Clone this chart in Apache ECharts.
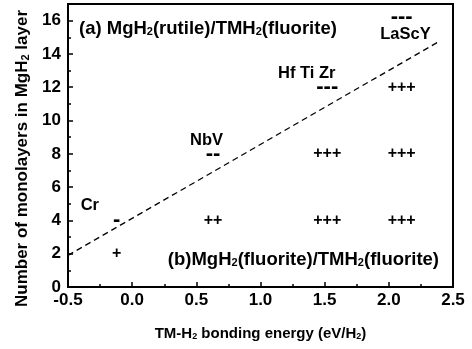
<!DOCTYPE html>
<html>
<head>
<meta charset="utf-8">
<script src="https://cdn.jsdelivr.net/npm/echarts@6/dist/echarts.min.js"></script>
<style>
  html, body { margin: 0; padding: 0; background: #fff; }
  #chart { width: 472px; height: 349px; }
</style>
</head>
<body>
<div id="chart"></div>
<script>
// element groups, where their names sit (energy, monolayers)
const elements = ['Cr', 'NbV', 'Hf Ti Zr', 'LaScY']
const elementX = [-0.33, 0.58, 1.36, 2.13]
const elementY = [4.9, 8.8, 12.8, 15.2]

// stable (+) and unstable (-) layer counts: [energy, monolayers, marker]
const plusPoints = [
  [-0.12, 2, '+'],
  [0.63, 4, '++'],
  [1.52, 4, '+++'], [1.52, 8, '+++'],
  [2.1, 4, '+++'], [2.1, 8, '+++'], [2.1, 12, '+++']
]
const minusPoints = [
  [-0.12, 4, '-'],
  [0.63, 8, '--'],
  [1.52, 12, '---'],
  [2.1, 16.2, '---']
]

// dashed boundary line
const boundary = [[-0.5, 1.9], [2.38, 14.7]]

const font = 'Liberation Sans'
const chart = echarts.init(document.getElementById('chart'))

const markLabel = {
  show: true,
  position: 'inside',
  formatter: p => p.data[2],
  color: '#000',
  fontFamily: font,
  fontWeight: 'bold',
  fontSize: 16
}

const sub = (size, drop) => ({
  a: { fontFamily: font, fontWeight: 'bold', fontSize: size, color: '#000', fill: '#000' },
  s: { fontFamily: font, fontWeight: 'bold', fontSize: Math.round(size * 0.62), color: '#000', fill: '#000', padding: [drop, 0, 0, 0] }
})

chart.setOption({
  animation: false,
  grid: {
    left: 68,
    right: 19,
    top: 4,
    bottom: 62,
    outerBoundsMode: 'none',
    show: true,
    borderColor: '#000',
    borderWidth: 2
  },
  xAxis: {
    type: 'value',
    min: -0.5,
    max: 2.5,
    interval: 0.5,
    name: '{a|TM-H}{s|2}{a| bonding energy (eV/H}{s|2}{a|)}',
    nameLocation: 'middle',
    nameGap: 39,
    nameTextStyle: { rich: sub(15, 6) },
    splitLine: { show: false },
    axisLine: { onZero: false, lineStyle: { color: '#000', width: 2 } },
    axisTick: { inside: true, length: 5, lineStyle: { color: '#000', width: 1.5 } },
    minorTick: { show: true, splitNumber: 2, length: 3, lineStyle: { color: '#000', width: 1.5 } },
    axisLabel: {
      color: '#000',
      fontFamily: font,
      fontWeight: 'bold',
      fontSize: 17,
      margin: 5,
      formatter: v => v.toFixed(1)
    }
  },
  yAxis: {
    type: 'value',
    min: 0,
    max: 17,
    interval: 2,
    name: '{a|Number of monolayers in MgH}{s|2}{a| layer}',
    nameLocation: 'middle',
    nameGap: 34,
    nameTextStyle: { rich: sub(17, 7), padding: [0, 26, 0, 0] },
    splitLine: { show: false },
    axisLine: { onZero: false, lineStyle: { color: '#000', width: 2 } },
    axisTick: { inside: true, length: 5, lineStyle: { color: '#000', width: 1.5 } },
    minorTick: { show: true, splitNumber: 2, length: 3, lineStyle: { color: '#000', width: 1.5 } },
    axisLabel: {
      color: '#000',
      fontFamily: font,
      fontWeight: 'bold',
      fontSize: 17,
      margin: 7,
      showMaxLabel: false
    }
  },
  graphic: [
    {
      type: 'text',
      left: 79,
      top: 19,
      style: {
        text: '{a|(a) MgH}{s|2}{a|(rutile)/TMH}{s|2}{a|(fluorite)}',
        rich: sub(18.5, 7)
      }
    },
    {
      type: 'text',
      right: 33,
      top: 250,
      style: {
        text: '{a|(b)MgH}{s|2}{a|(fluorite)/TMH}{s|2}{a|(fluorite)}',
        rich: sub(18.5, 7)
      }
    }
  ],
  series: [
    {
      type: 'line',
      data: boundary,
      symbol: 'none',
      lineStyle: { color: '#000', width: 1.3, type: [6, 4] },
      silent: true
    },
    {
      type: 'scatter',
      data: plusPoints,
      symbolSize: 1,
      itemStyle: { color: 'transparent', opacity: 1 },
      label: markLabel
    },
    {
      type: 'scatter',
      data: minusPoints,
      symbolSize: 1,
      itemStyle: { color: 'transparent', opacity: 1 },
      label: Object.assign({}, markLabel, { fontSize: 22 })
    },
    {
      type: 'scatter',
      data: elements.map((name, i) => [elementX[i], elementY[i], name]),
      symbolSize: 1,
      itemStyle: { color: 'transparent', opacity: 1 },
      label: Object.assign({}, markLabel, { fontSize: 16.5 })
    }
  ]
})
</script>
</body>
</html>
